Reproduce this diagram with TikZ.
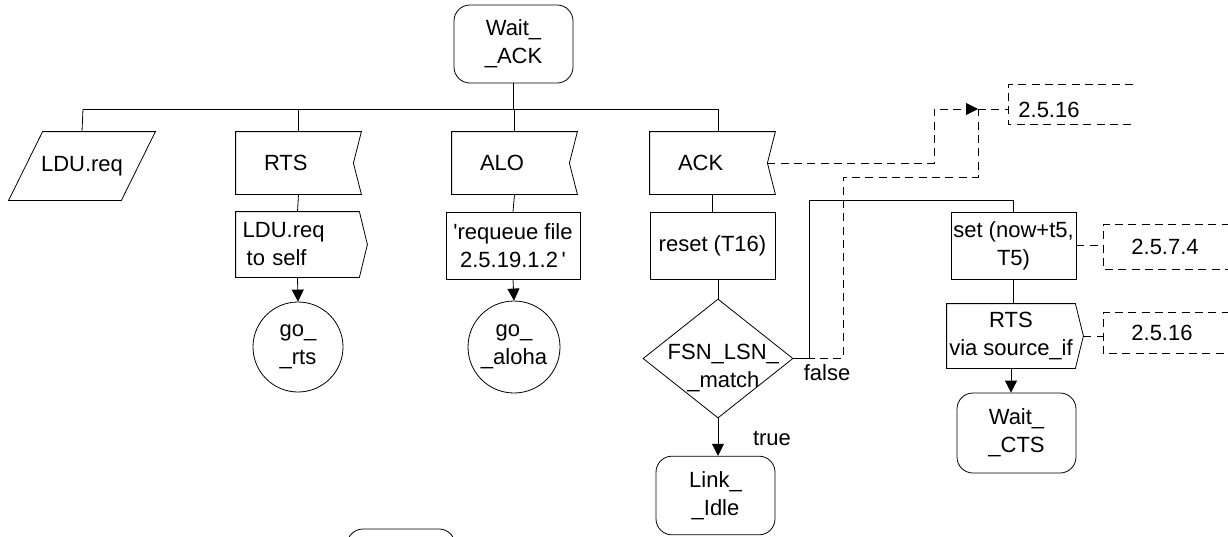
\documentclass[tikz,border=0pt]{standalone}
\usepackage{fontspec}
\setmainfont{Liberation Sans}[Ligatures=TeXOff]
\usetikzlibrary{shapes.geometric,arrows.meta}

% signal outlines drawn round plain rectangle nodes
\newcommand{\insig}[1]{\draw (#1.north west) -- (#1.north east) -- ([xshift=-6pt]#1.east) -- (#1.south east) -- (#1.south west) -- cycle;}
\newcommand{\outsig}[1]{\draw (#1.north west) -- (#1.north east) -- ([xshift=6pt]#1.east) -- (#1.south east) -- (#1.south west) -- cycle;}
\newcommand{\cmt}[2]{\draw[dashline] (#1.north west) ++(#2,0) -- (#1.north west) -- (#1.south west) -- ++(#2,0);}

\begin{document}
\begin{tikzpicture}[x=0.75pt, y=-0.75pt, line width=0.6pt,
    font=\fontsize{16.5}{21}\selectfont,
    state/.style={rectangle, draw, rounded corners=12pt, minimum width=89.25pt, minimum height=58.5pt, align=center},
    task/.style={rectangle, draw, minimum width=93.75pt, minimum height=50.25pt, align=center, inner sep=1pt},
    sig/.style={rectangle, minimum width=93.75pt, minimum height=46.5pt, align=center, inner sep=1pt},
    insigbox/.style={rectangle, minimum width=93.75pt, minimum height=46.5pt, align=left, text width=51.75pt, inner xsep=21pt},
    conn/.style={circle, draw, minimum size=67.5pt, inner sep=0pt, align=center},
    decision/.style={diamond, draw, minimum width=112.5pt, minimum height=89.25pt, inner sep=0pt},
    cmtbox/.style={rectangle, inner ysep=0pt, anchor=west},
    dashline/.style={dash pattern=on 6pt off 4pt},
    arr/.style={-{Triangle[length=9pt,width=9pt]}}]
    \useasboundingbox (0,0) rectangle (1228,536);

    \node[state] (waitack) at (513.5,44) {Wait\_\\\_ACK};

    \coordinate (busl) at (83,109);
    \coordinate (busr) at (718,109);
    \draw (busl)--(busr);
    \draw (waitack.south)--(waitack.south |- busl);

    % inputs
    \node[sig, minimum width=109.5pt, minimum height=51pt] (ldu) at (82,166) {LDU.req};
    \draw ([xshift=25.5pt]ldu.north west)--(ldu.north east)--([xshift=-25.5pt]ldu.south east)--(ldu.south west)--cycle;
    \node[insigbox] (rts) at (298.5,163) {RTS};
    \insig{rts}
    \node[insigbox] (alo) at (514.5,163) {ALO};
    \insig{alo}
    \node[insigbox] (ack) at (712.5,163) {ACK};
    \insig{ack}

    \draw (busl)--(ldu.north);
    \draw (rts.north |- busl)--(rts.north);
    \draw (alo.north |- busl)--(alo.north);
    \draw (busr)--(busr |- ack.north);

    % RTS branch
    \node[sig, minimum width=92.25pt, minimum height=48.75pt, align=left, text width=82.25pt, inner xsep=5pt] (lduself) at (297.5,244.5) {LDU.req\\\hspace*{3pt}to self};
    \outsig{lduself}
    \node[conn] (gorts) at (298,347) {go\_\\\_rts};
    \draw (rts.south)--(lduself.north);
    \draw[arr] (lduself.south)--(gorts.north);

    % ALO branch
    \node[task, minimum width=100.5pt] (requeue) at (513,245.5) {'requeue file\\ 2.5.19.1.2\,'};
    \node[conn, minimum size=69pt] (goaloha) at (514,347) {go\_\\\_aloha};
    \draw (alo.south)--(requeue.north);
    \draw[arr] (requeue.south)--(goaloha.north);

    % ACK branch
    \node[task] (reset) at (712.5,245.5) {reset (T16)};
    \node[decision, label={[align=center, xshift=4pt, yshift=-7pt]center:FSN\_LSN\_\\\_match}] (match) at (718,358.5) {};
    \node[state, minimum height=59pt] (linkidle) at (715.5,495.5) {Link\_\\\_Idle};
    \draw (ack.south)--(reset.north);
    \draw (match.north |- reset.south)--(match.north);
    \draw[arr] (match.south)--(match.south |- linkidle.north);
    \node (lbltrue) at (772,438) {true};
    \node (lblfalse) at (827,373) {false};

    \node[task] (set) at (1013.5,245.5) {set (now+t5,\\T5)};
    \node[sig, minimum width=96pt, minimum height=48pt] (rtsvia) at (1011,336) {RTS\\via source\_if};
    \outsig{rtsvia}
    \node[state, minimum height=60pt] (waitcts) at (1016.5,433) {Wait\_\\\_CTS};

    \coordinate (loop) at (809,200);
    \draw (match.east)--(match.east -| loop)--(loop)-|(set.north);
    \draw (set.south)--(set.south |- rtsvia.north);
    \draw[arr] (rtsvia.south)--(rtsvia.south |- waitcts.north);

    % comments
    \node[cmtbox, minimum height=29.25pt, inner xsep=7.5pt] (c1) at (1008,104.5) {\raisebox{-9.5pt}[0pt][0pt]{2.5.16}};
    \cmt{c1}{125}
    \node[cmtbox, minimum height=33pt, inner xsep=21pt] (c2) at (1103,247) {2.5.7.4};
    \cmt{c2}{140}
    \node[cmtbox, minimum height=30pt, inner xsep=21pt] (c3) at (1103,333) {2.5.16};
    \cmt{c3}{140}

    \coordinate (tip) at (978,109);
    \coordinate (jog) at (843,177);
    \draw[dashline, arr] ([xshift=-6pt]ack.east)-|([xshift=-33pt]tip)--(tip);
    \draw[dashline] (tip)--(c1.west |- tip);
    \draw[dashline] (match.east)-|(jog)-|(tip);
    \draw[dashline] (set.east)--(c2.west |- set.east);
    \draw[dashline] ([xshift=6pt]rtsvia.east)--(c3.west |- rtsvia.east);

    % next page state, cut off
    \node[state, minimum width=81pt] (nextst) at (401,568) {};
\end{tikzpicture}
\end{document}
